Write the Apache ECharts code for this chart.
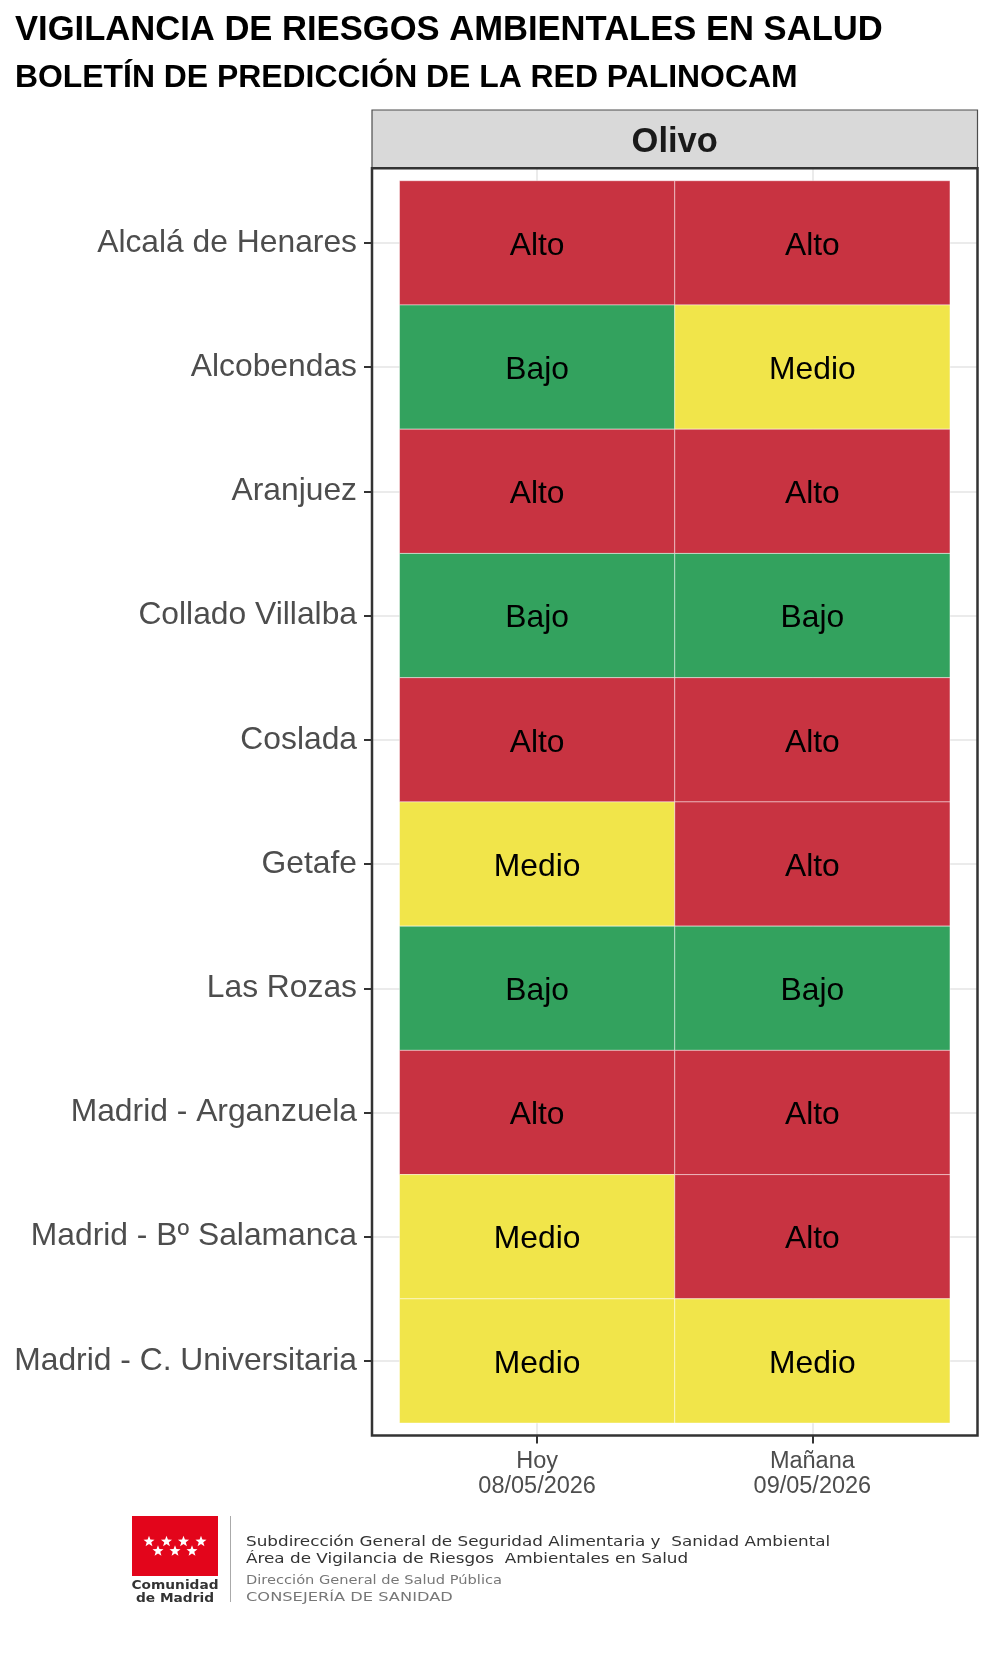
<!DOCTYPE html>
<html>
<head>
<meta charset="utf-8">
<script src="https://cdn.jsdelivr.net/npm/echarts@6/dist/echarts.min.js"></script>
<style>
  html, body { margin: 0; padding: 0; background: #fff; }
  #chart { width: 992px; height: 1653px; }
</style>
</head>
<body>
<div id="chart"></div>
<script>
// estaciones (de arriba a abajo)
var stations = ['Alcalá de Henares', 'Alcobendas', 'Aranjuez', 'Collado Villalba', 'Coslada',
  'Getafe', 'Las Rozas', 'Madrid - Arganzuela', 'Madrid - Bº Salamanca', 'Madrid - C. Universitaria'];
var days = ['Hoy\n08/05/2026', 'Mañana\n09/05/2026'];
var hoyLevels = ['Alto', 'Bajo', 'Alto', 'Bajo', 'Alto', 'Medio', 'Bajo', 'Alto', 'Medio', 'Medio'];
var mananaLevels = ['Alto', 'Medio', 'Alto', 'Bajo', 'Alto', 'Alto', 'Bajo', 'Alto', 'Alto', 'Medio'];
var pollen = 'Olivo';

var levelColors = { Alto: '#C83341', Medio: '#F1E54A', Bajo: '#33A25E' };
var FONT = '"Liberation Sans", Arial, sans-serif';
var LOGO_FONT = '"DejaVu Sans", sans-serif';

var cells = [];
stations.forEach(function (s, i) {
  cells.push({ x: 0, y: i, level: hoyLevels[i] });
  cells.push({ x: 1, y: i, level: mananaLevels[i] });
});

// panel box (ggplot-like)
var P = { left: 372, right: 977.5, top: 168.3, bottom: 1435.5 };

function starPoints(cx, cy, r1, r2) {
  var pts = [];
  for (var k = 0; k < 10; k++) {
    var r = k % 2 === 0 ? r1 : r2;
    var a = -Math.PI / 2 + k * Math.PI / 5;
    pts.push([cx + r * Math.cos(a), cy + r * Math.sin(a)]);
  }
  return pts;
}

var stars = [];
[149, 166.5, 183.5, 201].forEach(function (x) { stars.push([x, 1541.5]); });
[158, 175, 192].forEach(function (x) { stars.push([x, 1551]); });

function footText(txt, y, size, color, sx) {
  return { type: 'text', x: 246, y: y, scaleX: sx,
    style: { text: txt, fill: color, font: size + 'px ' + LOGO_FONT, verticalAlign: 'middle' } };
}

var graphics = [
  { type: 'text', x: 15, y: 30.5, style: { text: 'VIGILANCIA DE RIESGOS AMBIENTALES EN SALUD', fill: '#000',
      font: 'bold 34.6px ' + FONT, verticalAlign: 'middle' } },
  { type: 'text', x: 15, y: 78, style: { text: 'BOLETÍN DE PREDICCIÓN DE LA RED PALINOCAM', fill: '#000',
      font: 'bold 31.9px ' + FONT, verticalAlign: 'middle' } },
  // strip
  { type: 'rect', shape: { x: P.left, y: 110, width: P.right - P.left, height: P.top - 110 },
    style: { fill: '#d9d9d9', stroke: '#4d4d4d', lineWidth: 1.2 }, z: 10 },
  { type: 'text', x: (P.left + P.right) / 2, y: 142.5, style: { text: pollen, fill: '#1a1a1a',
      font: 'bold 34.5px ' + FONT, align: 'center', verticalAlign: 'middle' }, z: 11 },
  // panel border
  { type: 'rect', shape: { x: P.left, y: P.top, width: P.right - P.left, height: P.bottom - P.top },
    style: { fill: null, stroke: '#333', lineWidth: 2.5 }, z: 20 },
  // logo
  { type: 'rect', shape: { x: 132, y: 1516, width: 86, height: 60 }, style: { fill: '#E3051B' } },
  { type: 'text', x: 175, y: 1585.5, scaleX: 1.1, style: { text: 'Comunidad', fill: '#333', font: 'bold 12.5px ' + LOGO_FONT,
      align: 'center', verticalAlign: 'middle' } },
  { type: 'text', x: 175, y: 1599, scaleX: 1.1, style: { text: 'de Madrid', fill: '#333', font: 'bold 12.5px ' + LOGO_FONT,
      align: 'center', verticalAlign: 'middle' } },
  { type: 'line', shape: { x1: 230.5, y1: 1516, x2: 230.5, y2: 1602 }, style: { stroke: '#aaa', lineWidth: 1 } },
  footText('Subdirección General de Seguridad Alimentaria y  Sanidad Ambiental', 1542.5, 14, '#333', 1.2),
  footText('Área de Vigilancia de Riesgos  Ambientales en Salud', 1559, 14, '#333', 1.2),
  footText('Dirección General de Salud Pública', 1581, 12.5, '#777', 1.17),
  footText('CONSEJERÍA DE SANIDAD', 1598, 12.5, '#777', 1.3)
];
stars.forEach(function (p) {
  graphics.push({ type: 'polygon', shape: { points: starPoints(p[0], p[1], 5.8, 2.4) }, style: { fill: '#fff' } });
});

var chart = echarts.init(document.getElementById('chart'));
chart.setOption({
  backgroundColor: '#fff',
  animation: false,
  grid: { left: P.left, right: 992 - P.right, top: P.top, bottom: 1653 - P.bottom },
  xAxis: {
    type: 'value', min: -0.6, max: 1.6,
    axisLine: { show: false, onZero: false },
    axisTick: { show: true, customValues: [0, 1], length: 8, lineStyle: { color: '#333', width: 2 } },
    axisLabel: { customValues: [0, 1], margin: 13, color: '#4d4d4d', fontSize: 23.5, lineHeight: 25.5,
      fontFamily: FONT, formatter: function (v) { return days[Math.round(v)]; } },
    splitLine: { show: true, lineStyle: { color: '#ebebeb', width: 2 } }
  },
  yAxis: {
    type: 'value', inverse: true, min: -0.6, max: 9.6,
    axisLine: { show: false, onZero: false },
    axisTick: { show: true, customValues: [0, 1, 2, 3, 4, 5, 6, 7, 8, 9], length: 8, lineStyle: { color: '#333', width: 2 } },
    axisLabel: { customValues: [0, 1, 2, 3, 4, 5, 6, 7, 8, 9], margin: 15, color: '#4d4d4d', fontSize: 31.8,
      padding: [8, 0, 0, 0], fontFamily: FONT, formatter: function (v) { return stations[Math.round(v)]; } },
    splitLine: { show: true, lineStyle: { color: '#ebebeb', width: 2 } }
  },
  series: [{
    type: 'custom',
    data: cells.map(function (c) { return [c.x, c.y]; }),
    encode: { x: 0, y: 1 },
    renderItem: function (params, api) {
      var c = api.coord([api.value(0), api.value(1)]);
      var s = api.size([1, 1]);
      var lvl = cells[params.dataIndex].level;
      return {
        type: 'group',
        children: [
          { type: 'rect', shape: { x: c[0] - s[0] / 2, y: c[1] - s[1] / 2, width: s[0], height: s[1] },
            style: { fill: levelColors[lvl], stroke: 'rgba(255,255,255,0.45)', lineWidth: 1 } },
          { type: 'text', x: c[0], y: c[1] + 3, style: { text: lvl, fill: '#000', font: '31.8px ' + FONT,
              align: 'center', verticalAlign: 'middle' } }
        ]
      };
    }
  }],
  graphic: graphics
});
</script>
</body>
</html>
